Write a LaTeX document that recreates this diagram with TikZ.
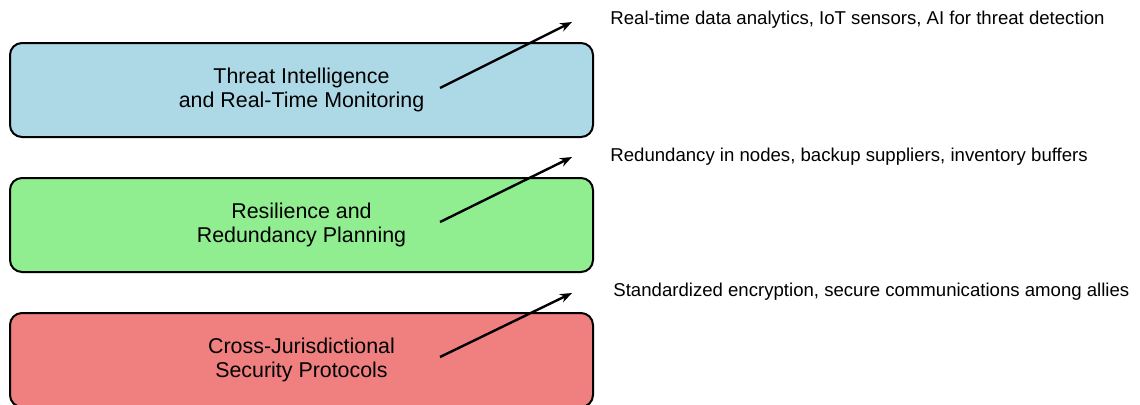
\documentclass[tikz,border=0pt]{standalone}
\usepackage{fontspec}
\setmainfont{Liberation Sans}
\usetikzlibrary{arrows.meta}

\definecolor{threatblue}{RGB}{173,216,230}
\definecolor{resiliencegreen}{RGB}{144,238,144}
\definecolor{protocolred}{RGB}{240,128,128}

\begin{document}
\begin{tikzpicture}[
    x=0.5pt, y=-0.5pt,
    layer/.style={draw, line width=1pt, rounded corners=6pt, minimum width=291.5pt, minimum height=47pt, align=center, font=\fontsize{10.7}{12.3}\selectfont},
    note/.style={anchor=west, inner sep=0pt, font=\fontsize{9.3}{11}\selectfont},
    link/.style={-{Stealth[length=6pt, width=4.5pt]}, line width=1.2pt}
  ]
    \clip (0,0) rectangle (1140,404);

    \node[layer, fill=threatblue] (threat) at (301.5,90) {Threat Intelligence\\and Real-Time Monitoring};
    \node[layer, fill=resiliencegreen] (resilience) at (301.5,225) {Resilience and\\Redundancy Planning};
    \node[layer, fill=protocolred] (protocols) at (301.5,360) {Cross-Jurisdictional\\Security Protocols};

    \node[note] (threat note) at (610,20) {Real-time data analytics, IoT sensors, AI for threat detection};
    \node[note] (resilience note) at (610,157) {Redundancy in nodes, backup suppliers, inventory buffers};
    \node[note] (protocols note) at (613,292) {Standardized encryption, secure communications among allies};

    \coordinate (threat tail) at (440,88);
    \coordinate (threat tip) at (572,22);
    \coordinate (resilience tail) at (440,222);
    \coordinate (resilience tip) at (572,157);
    \coordinate (protocols tail) at (440,357);
    \coordinate (protocols tip) at (572,293);

    \draw[link] (threat tail) -- (threat tip);
    \draw[link] (resilience tail) -- (resilience tip);
    \draw[link] (protocols tail) -- (protocols tip);
  \end{tikzpicture}
\end{document}
